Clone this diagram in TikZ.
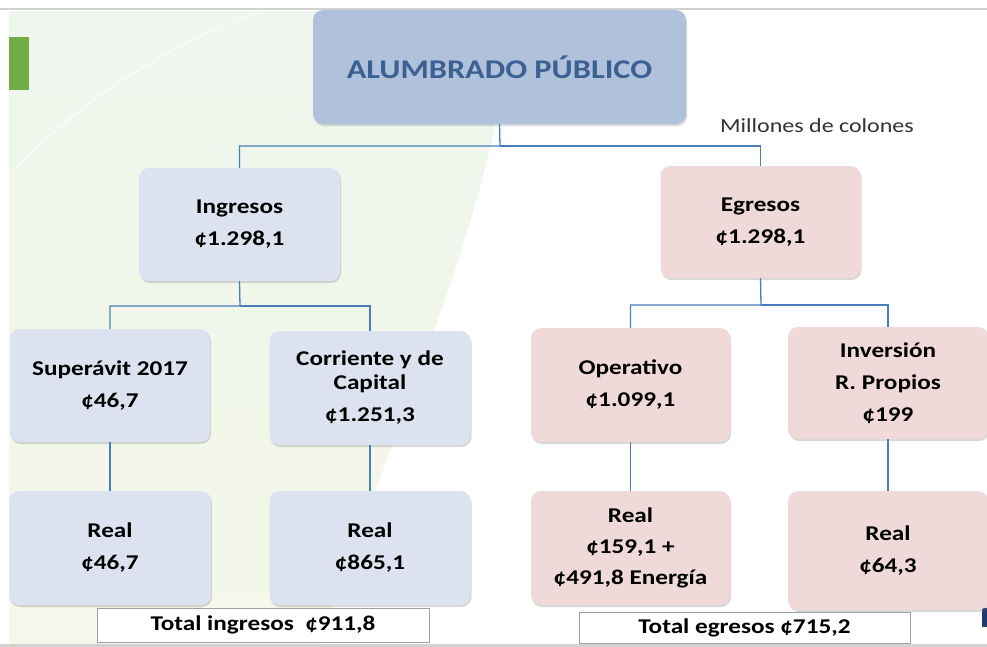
\documentclass[tikz,border=0pt]{standalone}
\usepackage{fontspec}
\setmainfont{Carlito}[FakeStretch=1.2]
\usetikzlibrary{shadows}

\definecolor{busblue}{RGB}{74,126,187}
\definecolor{titlefill}{RGB}{176,193,220}
\definecolor{titletext}{RGB}{59,96,145}
\definecolor{inblue}{RGB}{220,226,240}
\definecolor{outpink}{RGB}{240,217,217}
\definecolor{bggreen}{RGB}{238,246,237}
\definecolor{bgyellow}{RGB}{244,247,233}
\definecolor{framegray}{RGB}{160,160,160}
\definecolor{markblue}{RGB}{31,58,110}
\definecolor{tabgreen}{RGB}{112,173,71}

\begin{document}
\begin{tikzpicture}[x=1pt,y=-1pt]
      \tikzstyle{box} = [rounded corners=10pt, inner sep=0pt, align=center,
        font=\fontsize{21}{32}\selectfont\bfseries,
        drop shadow={opacity=0.3, shadow xshift=1pt, shadow yshift=-2pt}]
      \tikzstyle{inbox} = [box, fill=inblue, minimum width=201pt, minimum height=114pt]
      \tikzstyle{outbox} = [box, fill=outpink, minimum width=200pt, minimum height=114pt]
      \tikzstyle{totbox} = [draw=framegray, fill=white, inner sep=0pt,
        font=\fontsize{21}{26}\selectfont\bfseries]
      \tikzstyle{conn} = [busblue, line width=1.3pt]
      \useasboundingbox (0,0) rectangle (987,646);
      % background
      \fill[white] (0,0) rectangle (987,646);
      \shade[top color=bggreen, bottom color=bgyellow]
        (9,11) -- (510,11) .. controls (500,200) and (410,380) .. (320,646) -- (9,646) -- cycle;
      \draw[white, opacity=0.5, line width=2pt] (257,13) .. controls (150,50) and (60,120) .. (15,170);
      \draw[gray!35, line width=2pt] (0,9) -- (987,9);
      \draw[gray!35, line width=3pt] (0,645) -- (987,645);
      \fill[tabgreen] (9,37) rectangle (29,90);
      \fill[markblue] (982,608) rectangle (987,627);

      % nodes
      \node[box, fill=titlefill, text=titletext, minimum width=373pt, minimum height=114pt,
        font=\fontsize{27}{32}\selectfont\bfseries] (ap) at (499.5,67) {ALUMBRADO PÚBLICO};
      \node[font=\fontsize{20}{24}\selectfont, text=black!80] (unit) at (817,126) {Millones de colones};

      \node[inbox, minimum height=113pt] (ing) at (239.5,224.5) {Ingresos\\¢1.298,1};
      \node[outbox, minimum height=112pt] (egr) at (760.5,222) {Egresos\\¢1.298,1};

      \node[inbox, minimum width=200pt, minimum height=113pt] (sup) at (110,385.5) {Superávit 2017\\¢46,7};
      \node[inbox] (cor) at (370,388) {Corriente y de\\[-8pt]Capital\\¢1.251,3};
      \node[outbox, minimum width=199pt] (ope) at (630.5,385) {Operativo\\¢1.099,1};
      \node[outbox, minimum height=112pt] (inv) at (888,383) {Inversión\\R. Propios\\¢199};

      \node[inbox, minimum width=202pt] (rsup) at (110,548) {Real\\¢46,7};
      \node[inbox] (rcor) at (370,548) {Real\\¢865,1};
      \node[outbox, minimum width=199pt] (rope) at (630.5,548) {Real\\[-1pt]¢159,1 +\\[-1pt]¢491,8 Energía};
      \node[outbox, minimum height=119pt] (rinv) at (888,550.5) {Real\\¢64,3};

      \node[totbox, minimum width=332pt, minimum height=34pt] (tin) at (263,625) {Total ingresos\ \ ¢911,8};
      \node[totbox, minimum width=331pt, minimum height=31pt] (teg) at (744.5,627.5) {Total egresos ¢715,2};

      % connectors
      \coordinate (b1) at (500,146);
      \coordinate (b2) at (240,306);
      \coordinate (b3) at (761,305);
      \draw[conn] (ap.south) -- (b1) -| (ing.north);
      \draw[conn] (b1) -| (egr.north);
      \draw[conn] (ing.south) -- (b2) -| (sup.north);
      \draw[conn] (b2) -| (cor.north);
      \draw[conn] (egr.south) -- (b3) -| (ope.north);
      \draw[conn] (b3) -| (inv.north);
      \draw[conn] (sup) -- (rsup);
      \draw[conn] (cor) -- (rcor);
      \draw[conn] (ope) -- (rope);
      \draw[conn] (inv) -- (rinv);
\end{tikzpicture}
\end{document}
